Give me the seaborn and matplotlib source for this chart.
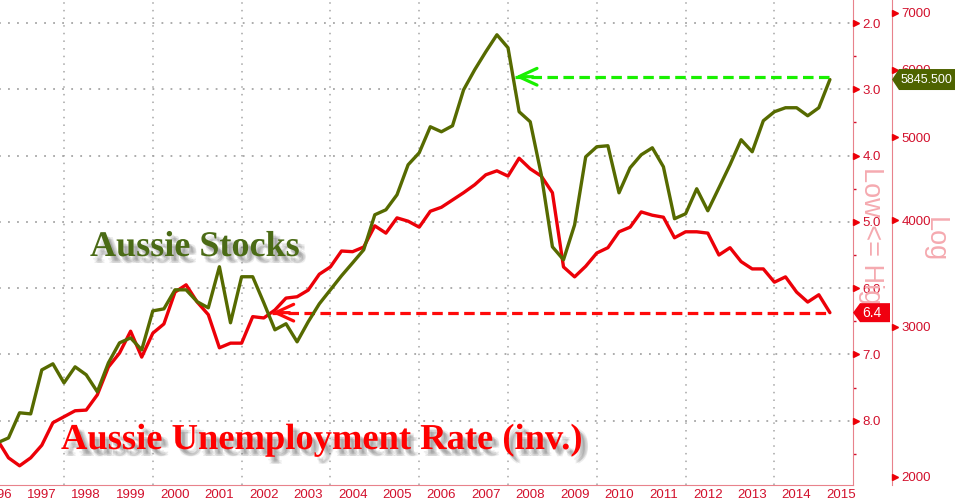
import numpy as np
import pandas as pd
import seaborn as sns
import matplotlib.pyplot as plt
import matplotlib.patheffects as pe
import matplotlib.transforms as mtransforms
from matplotlib.patches import Polygon
from matplotlib.ticker import NullLocator

# quarterly observations, 1996 Q3 .. 2015 Q1 (decimal years)
quarters = np.arange(1996.5, 2015.3, 0.25)

# ASX 200 level (right, log axis)
asx_stocks = [2193, 2222, 2378, 2371, 2670, 2714, 2578, 2692, 2635, 2517,
              2721, 2872, 2911, 2818, 3131, 3148, 3314, 3314, 3209, 3157,
              3527, 3032, 3433, 3433, 3200, 2975, 3024, 2880, 3040, 3191,
              3314, 3442, 3564, 3692, 4058, 4113, 4283, 4644, 4797, 5146,
              5077, 5160, 5686, 6002, 6301, 6596, 6369, 5359, 5216, 4520,
              3722, 3594, 3949, 4745, 4876, 4889, 4306, 4607, 4771, 4862,
              4619, 4015, 4069, 4353, 4102, 4364, 4644, 4969, 4810, 5230,
              5359, 5417, 5417, 5301, 5417, 5845.5]

# unemployment rate % (inverted axis)
unemployment = [8.29, 8.56, 8.68, 8.56, 8.37, 8.03, 7.94, 7.85, 7.84, 7.61,
                7.19, 6.98, 6.65, 7.04, 6.68, 6.54, 6.06, 5.95, 6.21, 6.40,
                6.90, 6.83, 6.83, 6.43, 6.45, 6.33, 6.15, 6.13, 6.03, 5.79,
                5.68, 5.44, 5.45, 5.38, 5.06, 5.17, 4.94, 4.99, 5.08, 4.84,
                4.78, 4.67, 4.56, 4.44, 4.29, 4.23, 4.31, 4.04, 4.20, 4.31,
                4.56, 5.68, 5.83, 5.67, 5.47, 5.39, 5.15, 5.08, 4.85, 4.90,
                4.93, 5.24, 5.15, 5.15, 5.17, 5.50, 5.39, 5.60, 5.71, 5.71,
                5.91, 5.83, 6.06, 6.21, 6.10, 6.37]

years = list(range(1996, 2016))
grid_years = list(range(1998, 2015, 2))
unemp_ticks = [2, 3, 4, 5, 6, 7, 8]
stock_ticks = [2000, 3000, 4000, 5000, 6000, 7000]

# arrows: where each series last stood at today's level
green_arrow_from = 2008.16
green_arrow_level = 5890
red_arrow_from = 2002.68

df = pd.DataFrame({'date': quarters, 'stocks': asx_stocks, 'unemp': unemployment})

RED = '#ec0008'
OLIVE = '#566a00'
TAG_GREEN = '#4e6300'
AXIS_RED = '#d2102c'
SPINE = '#e8828c'
SEP = '#f2a7ad'
PINK = '#f5aab0'
GRID = '#a6a6a6'

sns.set_style('white')
plt.rcParams['font.family'] = ['Liberation Sans', 'DejaVu Sans']

W, H = 955, 503
fig = plt.figure(figsize=(W / 100, H / 100), dpi=100)
ax = fig.add_axes([-2.6 / W, 18 / H, 855.6 / W, 485 / H])
ax2 = ax.twinx()

sns.lineplot(data=df, x='date', y='unemp', ax=ax, color=RED, lw=2.4, zorder=3)
sns.lineplot(data=df, x='date', y='stocks', ax=ax2, color=OLIVE, lw=2.4, zorder=3)
ax.set_xlabel('')
ax.set_ylabel('')
ax2.set_ylabel('')

# spines
for a in (ax, ax2):
    a.spines['left'].set_visible(False)
    a.spines['top'].set_visible(False)
ax2.spines['bottom'].set_visible(False)
ax.spines['right'].set_color(SPINE)
ax.spines['bottom'].set_color(SPINE)
outer_pos = (892 + 2.6) / 855.6
ax2.spines['right'].set_position(('axes', outer_pos))
ax2.spines['right'].set_color(SPINE)

# inner (inverted unemployment) axis
ax.yaxis.tick_right()
ax.set_yticks(unemp_ticks, labels=[f'{v:.1f}' for v in unemp_ticks])
ax.set_yticks([v + 0.5 for v in unemp_ticks], minor=True)
ax.tick_params(axis='y', which='major', length=0, pad=7, labelsize=9.5, labelcolor=AXIS_RED)
ax.tick_params(axis='y', which='minor', length=2.5, width=1, color=AXIS_RED, direction='out')
ax.grid(axis='y', which='major', ls=(0, (1, 4)), lw=1.3, color=GRID)

# outer (log) axis
ax2.set_yscale('log')
ax2.set_yticks(stock_ticks, labels=[str(v) for v in stock_ticks])
ax2.yaxis.set_minor_locator(NullLocator())
ax2.tick_params(axis='y', length=0, pad=7, labelsize=9.5, labelcolor=AXIS_RED)

# x axis: year boxes
ax.set_xticks(years, labels=[''] * len(years))
ax.set_xticks([y + 0.5 for y in years], labels=[str(y) for y in years], minor=True)
ax.tick_params(axis='x', which='major', length=13, width=0.8, color=SEP, direction='out')
ax.tick_params(axis='x', which='minor', length=0, pad=3, labelsize=9.5, labelcolor=AXIS_RED)

# limits last, so the tick setters can't widen them
ax.set_xlim(1996.5, 2015.77)
ax.set_ylim(8.97, 1.653)
ax2.set_ylim(1957, 7245)

for g in grid_years:
    ax.axvline(g, ls=(0, (1, 4)), lw=1.1, color=GRID, zorder=0.5)

# little triangle tick markers
tr_in = mtransforms.blended_transform_factory(ax.transAxes, ax.transData)
ax.plot([1 + 3 / 855.6] * len(unemp_ticks), unemp_ticks, ls='none', marker='>', ms=4.5,
        color=RED, transform=tr_in, clip_on=False, zorder=5)
tr_out = mtransforms.blended_transform_factory(ax2.transAxes, ax2.transData)
ax2.plot([outer_pos + 3 / 855.6] * len(stock_ticks), stock_ticks, ls='none', marker='>', ms=4.5,
         color=RED, transform=tr_out, clip_on=False, zorder=5)

# dashed arrows
ax2.plot([green_arrow_from, quarters[-1]], [green_arrow_level] * 2, ls=(0, (3.3, 1.7)),
         lw=2.3, color='#19f000', zorder=4)
ax2.annotate('', xy=(green_arrow_from, green_arrow_level),
             xytext=(green_arrow_from + 0.4, green_arrow_level),
             arrowprops=dict(arrowstyle='->,head_length=1.3,head_width=0.6', color='#19f000',
                             lw=2.3, shrinkA=0, shrinkB=0, mutation_scale=10), zorder=4)
ax.plot([red_arrow_from, quarters[-1]], [unemployment[-1]] * 2, ls=(0, (3.3, 1.7)),
        lw=2.3, color='#ff0a0a', zorder=4)
ax.annotate('', xy=(red_arrow_from, unemployment[-1]),
            xytext=(red_arrow_from + 0.4, unemployment[-1]),
            arrowprops=dict(arrowstyle='->,head_length=1.3,head_width=0.6', color='#ff0a0a',
                            lw=2.3, shrinkA=0, shrinkB=0, mutation_scale=10), zorder=4)

ax.set_xlim(1996.5, 2015.77)
ax.set_ylim(8.97, 1.653)
ax2.set_ylim(1957, 7245)


# last-value tags
def tag(tip_x, right_x, y, h, color, text, text_x, size):
    pts = [(tip_x, y), (tip_x + 7, y + h / 2), (right_x, y + h / 2),
           (right_x, y - h / 2), (tip_x + 7, y - h / 2)]
    fig.add_artist(Polygon(pts, closed=True, transform=mtransforms.IdentityTransform(),
                           facecolor=color, edgecolor='none', zorder=5))
    fig.text(text_x / W, y / H, text, color='white', fontsize=size, ha='left', va='center', zorder=6)


inner_x = ax.transAxes.transform((1, 0))[0]
outer_x = ax.transAxes.transform((outer_pos, 0))[0]
y_stock = ax2.transData.transform((quarters[-1], asx_stocks[-1]))[1]
y_unemp = ax.transData.transform((quarters[-1], unemployment[-1]))[1]
tag(outer_x, W + 5, y_stock, 21, TAG_GREEN, f'{asx_stocks[-1]:.3f}', outer_x + 9, 9)
tag(inner_x, inner_x + 37, y_unemp, 19, '#f00010', f'{unemployment[-1]:.1f}', inner_x + 9, 10)

# axis titles
fig.text(871 / W, 1 - 243 / H, 'Low <= High', rotation=270, color=PINK, fontsize=19.5,
         ha='center', va='center')
fig.text(935 / W, 1 - 240 / H, 'Log', rotation=270, color=PINK, fontsize=19.5,
         ha='center', va='center')

# series captions with soft drop shadow
shadow = [pe.SimplePatchShadow(offset=o, shadow_rgbFace='#4a4a4a', alpha=0.1)
          for o in [(2, -2.5), (3, -3.5), (4, -4.5), (5, -3.5), (3, -5), (5, -5)]] + [pe.Normal()]
fig.text(90 / W, 1 - 256 / H, 'Aussie Stocks', color='#4b6b16', fontsize=26,
         fontweight='bold', family='Liberation Serif', va='baseline', path_effects=shadow)
fig.text(61 / W, 1 - 449 / H, 'Aussie Unemployment Rate (inv.)', color='#ff0000', fontsize=26.3,
         fontweight='bold', family='Liberation Serif', va='baseline', path_effects=shadow)

fig.savefig('out.png', dpi=100)
